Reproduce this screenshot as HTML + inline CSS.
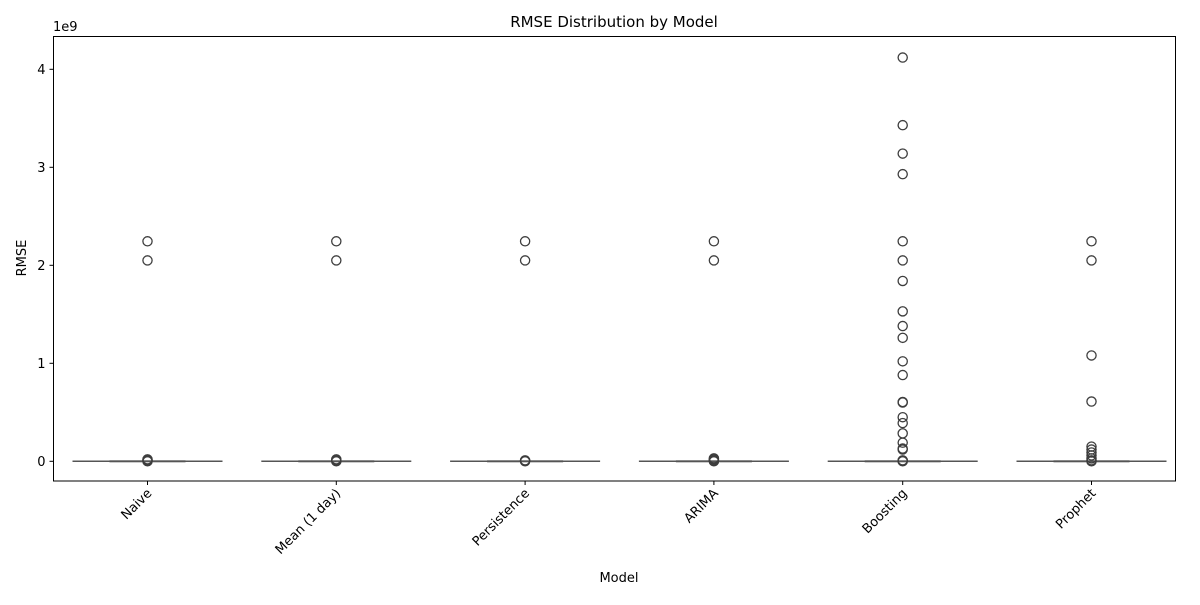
<!DOCTYPE html>
<html><head><meta charset="utf-8"><style>
body{margin:0;background:#fff;}
svg text{font-family:"DejaVu Sans","Liberation Sans",sans-serif;fill:#000;}
</style></head><body>
<svg id="chart" width="1200" height="600" xmlns="http://www.w3.org/2000/svg">
<rect width="1200" height="600" fill="#fff"/>
<text x="614" y="27" text-anchor="middle" font-size="15">RMSE Distribution by Model</text>
<text transform="translate(26,258) rotate(-90)" text-anchor="middle" font-size="13">RMSE</text>
<text x="619" y="582" text-anchor="middle" font-size="13">Model</text>
<text x="53" y="31" font-size="13">1e9</text>
<g id="marks"></g>
<rect x="53.5" y="36.5" width="1122" height="444.5" fill="none" stroke="#000" stroke-width="1"/>
</svg>
<script>
const categories=["Naive","Mean (1 day)","Persistence","ARIMA","Boosting","Prophet"];
const outliersNaive=[2.245,2.05,0.02,0.01,0.005,0];
const outliersMean=[2.245,2.05,0.02,0.01,0.005,0];
const outliersPersistence=[2.245,2.05,0.01,0.005,0];
const outliersArima=[2.245,2.05,0.03,0.02,0.01,0.005,0];
const outliersBoosting=[4.12,3.43,3.14,2.93,2.245,2.05,1.84,1.53,1.38,1.26,1.02,0.88,0.605,0.6,0.45,0.39,0.285,0.19,0.13,0.12,0.01,0.005,0];
const outliersProphet=[2.245,2.05,1.08,0.61,0.15,0.12,0.09,0.06,0.03,0.01,0];
const yTicks=[0,1,2,3,4];
const outliers=[outliersNaive,outliersMean,outliersPersistence,outliersArima,outliersBoosting,outliersProphet];
const NS="http://www.w3.org/2000/svg";
const g=document.getElementById('marks');
const svg=document.getElementById('chart');
const left=53.5,y0=461.3,pxPerUnit=98;
const band=188.8,firstCenter=147.5;
function x(i){return firstCenter+band*i;}
function y(v){return y0-v*pxPerUnit;}
function el(t,a){const e=document.createElementNS(NS,t);for(const k in a)e.setAttribute(k,a[k]);return e;}
yTicks.forEach(t=>{
  const tk=el('line',{x1:left-4,x2:left,y1:y(t),y2:y(t),stroke:'#000'});
  
  
  svg.appendChild(tk);
  const tx=el('text',{x:left-8,y:y(t)+4.5,'text-anchor':'end','font-size':'13'});
  tx.textContent=t;
  
  
  svg.appendChild(tx);
});
categories.forEach((c,i)=>{
  const cx=x(i);
  const wh=el('line',{x1:cx-75,x2:cx+75,y1:y(0),y2:y(0),stroke:'#555','stroke-width':1.5});
  
  
  g.appendChild(wh);
  const bx=el('rect',{x:cx-38,y:y(0)-1,width:76,height:2,fill:'#555'});
  
  
  g.appendChild(bx);
  outliers[i].forEach(v=>{
    const p=el('circle',{cx:cx,cy:y(v),r:4.6,fill:'none',stroke:'#3d3d3d','stroke-width':1.3});
    
    
    g.appendChild(p);
  });
  const tk=el('line',{x1:cx,x2:cx,y1:481,y2:485,stroke:'#000'});
  
  
  svg.appendChild(tk);
  const tx=el('text',{'text-anchor':'end','font-size':'13',transform:`translate(${cx+5},${494}) rotate(-45)`});
  tx.textContent=c;
  
  
  svg.appendChild(tx);
});
</script>
</body></html>
